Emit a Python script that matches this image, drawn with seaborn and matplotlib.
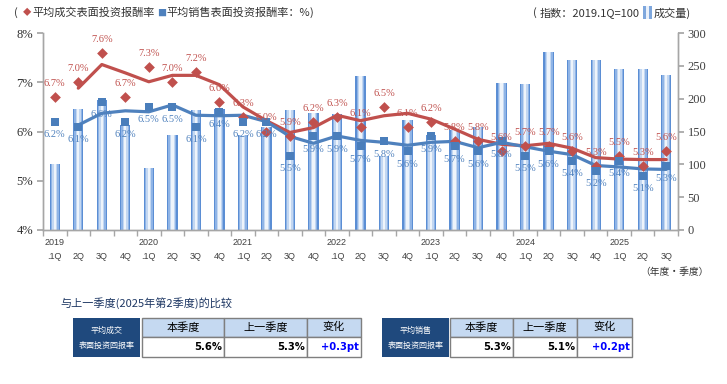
import numpy as np
import pandas as pd
import matplotlib.pyplot as plt
from matplotlib.patches import Rectangle
import seaborn as sns

# quarters 2019.1Q .. 2025.3Q
years = ["2019", "2020", "2021", "2022", "2023", "2024", "2025"]
quarters = ["1Q", "2Q", "3Q", "4Q"]
periods = [f"{y}.{q}" for y in years for q in quarters][:27]

# transaction volume index (2019.1Q = 100), right axis
volume = [100, 185, 198, 160, 95, 145, 183, 185, 145, 157, 182, 178, 176, 235,
          112, 168, 145, 152, 157, 224, 222, 271, 259, 259, 245, 245, 236]

# average transaction yield (%), red diamonds
deal_yield = [6.7, 7.0, 7.6, 6.7, 7.3, 7.0, 7.2, 6.6, 6.3, 6.0, 5.9, 6.2, 6.3, 6.1,
              6.5, 6.1, 6.2, 5.8, 5.8, 5.6, 5.7, 5.7, 5.6, 5.3, 5.5, 5.3, 5.6]
# average asking yield (%), blue squares
sale_yield = [6.2, 6.1, 6.6, 6.2, 6.5, 6.5, 6.1, 6.4, 6.2, 6.2, 5.5, 5.9, 5.9, 5.7,
              5.8, 5.6, 5.9, 5.7, 5.6, 5.8, 5.5, 5.6, 5.4, 5.2, 5.4, 5.1, 5.3]

# trend lines, starting from 2019.2Q
deal_trend = [6.88, 7.36, 7.19, 7.01, 7.14, 7.14, 6.95, 6.50, 6.22, 5.98, 6.08, 6.33, 6.22,
              6.32, 6.37, 6.25, 6.05, 5.84, 5.74, 5.71, 5.76, 5.66, 5.47, 5.44, 5.43, 5.43]
sale_trend = [6.13, 6.37, 6.42, 6.40, 6.54, 6.33, 6.32, 6.33, 6.20, 5.90, 5.76, 5.91, 5.82,
              5.78, 5.72, 5.78, 5.80, 5.67, 5.78, 5.69, 5.60, 5.53, 5.31, 5.28, 5.24, 5.23]

# comparison tables
table_headers = ["本季度", "上一季度", "变化"]
deal_compare = ["5.6%", "5.3%", "+0.3pt"]
sale_compare = ["5.3%", "5.1%", "+0.2pt"]

RED = "#C0504D"
BLUE = "#4F81BD"
GREY = "#A6A6A6"
CJK = ["Noto Sans CJK SC", "DejaVu Sans"]
SERIF = "Liberation Serif"

sns.set_theme(style="white")
plt.rcParams["font.family"] = CJK

fig = plt.figure(figsize=(7.27, 3.84), dpi=100)
ax = fig.add_axes([43 / 727, 1 - 230 / 384, (678 - 43) / 727, (230 - 33) / 384])
ax2 = ax.twinx()

pos = np.arange(len(periods))
df = pd.DataFrame({"period": periods, "volume": volume})

# striped bars: darker edge, lighter centre
for w, c in [(0.44, "#5B8ED4"), (0.34, "#8FB4E6"), (0.22, "#C3D7F1"), (0.10, "#EEF4FB")]:
    sns.barplot(data=df, x="period", y="volume", color=c, width=w, saturation=1,
                errorbar=None, linewidth=0, ax=ax)

# trend lines
sns.lineplot(x=pos[1:], y=deal_trend, color=RED, lw=2.3, ax=ax2, zorder=3)
sns.lineplot(x=pos[1:], y=sale_trend, color=BLUE, lw=2.3, ax=ax2, zorder=3)

# point markers
ax2.scatter(pos, deal_yield, marker="D", s=30, color=RED, zorder=4, linewidths=0)
ax2.scatter(pos, sale_yield, marker="s", s=28, color="#4A7EBB", zorder=4, linewidths=0)

for i, v in enumerate(deal_yield):
    ax2.annotate(f"{v:.1f}%", (i, v), xytext=(0, 6.5), textcoords="offset points",
                 ha="center", va="bottom", color=RED, fontsize=7.5, family=SERIF, zorder=5)
for i, v in enumerate(sale_yield):
    ax2.annotate(f"{v:.1f}%", (i, v), xytext=(0, -6), textcoords="offset points",
                 ha="center", va="top", color="#4F81BD", fontsize=7.5, family=SERIF, zorder=5)

# axes: bars on right scale, yields on left scale
ax.yaxis.tick_right()
ax.yaxis.set_label_position("right")
ax2.yaxis.tick_left()
ax2.yaxis.set_label_position("left")

ax.set_ylim(0, 300)
ax2.set_ylim(4, 8)
ax.set_xlim(-0.5, 26.5)
ax2.set_xlim(-0.5, 26.5)

ax.set_yticks(range(0, 301, 50), [str(t) for t in range(0, 301, 50)],
              family=SERIF, fontsize=9, color="#404040")
ax2.set_yticks([4, 5, 6, 7, 8], ["4%", "5%", "6%", "7%", "8%"],
               family=SERIF, fontsize=9, color="#303030")

xlabels = [f"{p[:4]}\n.1Q" if p.endswith("1Q") else f"\n{p[-2:]}" for p in periods]
ax.set_xticks(pos, xlabels, family="Liberation Sans", fontsize=6.5, color="#404040",
              linespacing=1.6)
ax.set_xticks(np.arange(-0.5, 27, 1), minor=True)
ax.tick_params(axis="x", which="major", length=0, pad=6)
ax.tick_params(axis="x", which="minor", length=4, direction="out", color=GREY, bottom=True)
ax.tick_params(axis="y", length=4, direction="out", color=GREY, right=True, pad=3)
ax2.tick_params(axis="y", length=4, direction="out", color=GREY, left=True, pad=3)

ax.set_xlabel("")
ax.set_ylabel("")
ax2.set_xlabel("")
ax2.set_ylabel("")
for a in (ax, ax2):
    a.spines["top"].set_visible(False)
    for s in ("left", "right", "bottom"):
        a.spines[s].set_color(GREY)
        a.spines[s].set_linewidth(1)
    a.grid(False)

# overlay in pixel coordinates for captions and tables
ov = fig.add_axes([0, 0, 1, 1], zorder=10)
ov.set_xlim(0, 727)
ov.set_ylim(384, 0)
ov.axis("off")
ov.patch.set_visible(False)

# legend, top left
ov.text(14, 13, "(", fontsize=8, va="center", color="#333333")
ov.text(23, 13, "◆", fontsize=6, va="center", color=RED)
ov.text(32, 13, "平均成交表面投资报酬率", fontsize=8, va="center", color="#333333")
ov.text(157, 13, "■", fontsize=6.5, va="center", color=BLUE)
ov.text(166, 13, "平均销售表面投资报酬率：%", fontsize=8, va="center", color="#333333")
ov.text(310, 13, ")", fontsize=8, va="center", color="#333333")

# legend, top right
ov.text(533, 13, "(", fontsize=8, va="center", color="#333333")
ov.text(540, 13, "指数：2019.1Q=100", fontsize=8, va="center", color="#333333")
ov.add_patch(Rectangle((643, 6), 9, 13, color="#7EA7DD", lw=0))
ov.add_patch(Rectangle((646, 6), 3, 13, color="#E9F0FA", lw=0))
ov.text(654, 13, "成交量)", fontsize=8, va="center", color="#333333")

ov.text(709, 272, "（年度·季度）", fontsize=7, va="center", ha="right", color="#333333")

ov.text(60, 303, "与上一季度(2025年第2季度)的比较", fontsize=8, va="center",
        color="#1F3864")


def draw_table(x0, name, cols, values):
    top, mid, bot = 318, 336.5, 357
    ov.add_patch(Rectangle((x0, top), 67, bot - top, color="#1F497D", lw=0))
    ov.text(x0 + 33.5, top + 12, name[0], fontsize=5.8, color="white",
            ha="center", va="center")
    ov.text(x0 + 33.5, top + 27, name[1], fontsize=5.8, color="white",
            ha="center", va="center")
    for j in range(3):
        left, right = cols[j], cols[j + 1]
        ov.add_patch(Rectangle((left, top), right - left, mid - top,
                               facecolor="#C5D9F1", edgecolor="#7F7F7F", lw=1))
        ov.add_patch(Rectangle((left, mid), right - left, bot - mid,
                               facecolor="white", edgecolor="#7F7F7F", lw=1))
        ov.text((left + right) / 2, (top + mid) / 2, table_headers[j], fontsize=8,
                ha="center", va="center", color="black")
        colr = "#0000FF" if j == 2 else "black"
        ov.text(right - 2, (mid + bot) / 2 + 0.5, values[j], fontsize=7.2, ha="right",
                va="center", color=colr, family="DejaVu Sans", fontweight="bold")


draw_table(73, ("平均成交", "表面投资回报率"), [142, 224, 307, 361], deal_compare)
draw_table(382, ("平均销售", "表面投资回报率"), [450, 513, 577, 632], sale_compare)

fig.savefig("out.png", dpi=100)
